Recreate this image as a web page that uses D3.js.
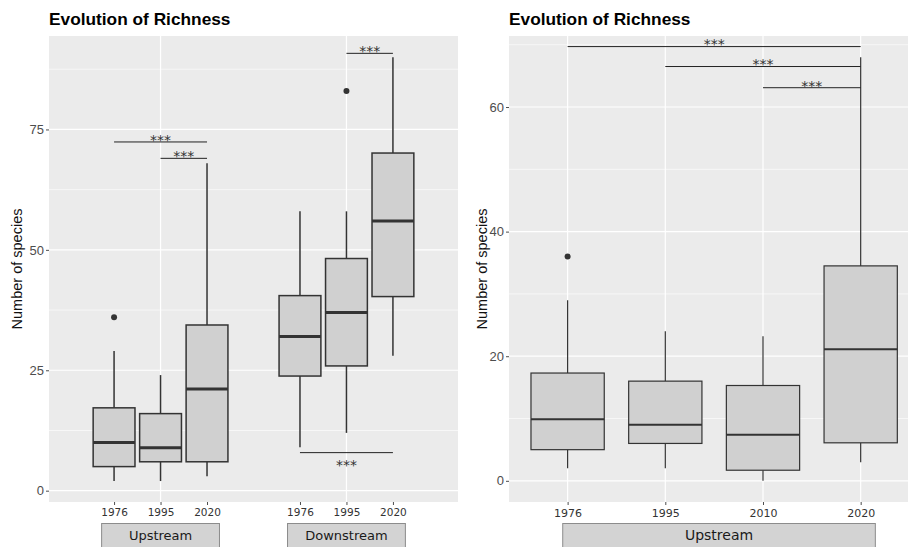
<!DOCTYPE html>
<html><head><meta charset="utf-8">
<script src="https://cdn.jsdelivr.net/npm/d3@7"></script>
<style>body{margin:0;background:#fff}svg{display:block}</style>
</head><body>
<svg id="chart" width="908" height="547"></svg>
<script>
// ---------- data ----------
const leftGroups = ["Upstream", "Downstream"];
const leftSites = ["Upstream","Upstream","Upstream","Downstream","Downstream","Downstream"];
const leftYears = ["1976","1995","2020","1976","1995","2020"];
const leftLower  = [2, 2, 3, 9, 12, 28];
const leftQ1     = [5, 6, 6, 23.8, 25.9, 40.3];
const leftMedian = [10, 8.9, 21.1, 32, 37, 56];
const leftQ3     = [17.2, 16, 34.4, 40.5, 48.2, 70.1];
const leftUpper  = [29, 24, 68, 58, 58, 90];
const leftOutliers = [[36], [], [], [], [83], []];
const leftYTicks = [0, 25, 50, 75];
const leftSigStart = [4, 0, 1, 3];
const leftSigEnd   = [5, 2, 2, 5];
const leftSigY     = [90.8, 72.4, 69.0, 7.9];
const leftSigBelow = [false, false, false, true];
const leftSigLabel = ["***", "***", "***", "***"];

const rightGroup = "Upstream";
const rightYears = ["1976","1995","2010","2020"];
const rightLower  = [2, 2, 0, 3];
const rightQ1     = [5, 6, 1.7, 6.1];
const rightMedian = [9.9, 9, 7.4, 21.1];
const rightQ3     = [17.3, 16, 15.3, 34.5];
const rightUpper  = [29, 24, 23.2, 68];
const rightOutliers = [[36], [], [], []];
const rightYTicks = [0, 20, 40, 60];
const rightSigStart = [0, 1, 2];
const rightSigEnd   = [3, 3, 3];
const rightSigY     = [69.7, 66.5, 63.1];
const rightSigLabel = ["***", "***", "***"];

const titleText = "Evolution of Richness";
const yTitle = "Number of species";

// ---------- styles ----------
const svg = d3.select("#chart");
const PANEL = "#ebebeb", GRID = "#ffffff", BOXFILL = "#d0d0d0", DARK = "#333333";
const SANS = "'Liberation Sans', Arial, Helvetica, sans-serif";
const DEJA = "'DejaVu Sans', sans-serif";
const plotTop = 36, plotBottom = 502;

function drawPanel(o) {
  const g = svg.append("g");
  const x = d3.scaleLinear().domain(o.xDomain).range([o.left, o.right]);
  const y = d3.scaleLinear().domain(o.yDomain).range([plotBottom, plotTop]);

  g.append("rect").attr("x", o.left).attr("y", plotTop)
    .attr("width", o.right - o.left).attr("height", plotBottom - plotTop).attr("fill", PANEL);

  const step = o.yTicks[1] - o.yTicks[0];
  const minor = o.yTicks.map(t => t + step / 2).concat([o.yTicks[0] - step / 2])
    .filter(v => v > o.yDomain[0] && v < o.yDomain[1]);
  g.selectAll(".ymin").data(minor).join("line")
    .attr("x1", o.left).attr("x2", o.right).attr("y1", d => y(d)).attr("y2", d => y(d))
    .attr("stroke", GRID).attr("stroke-width", 0.6);
  g.selectAll(".ymaj").data(o.yTicks).join("line")
    .attr("x1", o.left).attr("x2", o.right).attr("y1", d => y(d)).attr("y2", d => y(d))
    .attr("stroke", GRID).attr("stroke-width", 1.2);
  g.selectAll(".xmaj").data(o.xGrid).join("line")
    .attr("x1", d => x(d)).attr("x2", d => x(d)).attr("y1", plotTop).attr("y2", plotBottom)
    .attr("stroke", GRID).attr("stroke-width", 1.2);

  const yAxis = d3.axisLeft(y).tickValues(o.yTicks).tickSize(3).tickPadding(2);
  const ya = g.append("g").attr("transform", `translate(${o.left},0)`).call(yAxis);
  ya.select(".domain").remove();
  ya.selectAll(".tick line").attr("stroke", "#4d4d4d");
  ya.selectAll(".tick text").attr("fill", "#4d4d4d").style("font-family", SANS).style("font-size", "13px");

  g.append("text").attr("transform", `translate(${o.yTitleX},${(plotTop + plotBottom) / 2}) rotate(-90)`)
    .attr("text-anchor", "middle").style("font-family", SANS).style("font-size", "14.5px")
    .attr("fill", "#111").text(yTitle);

  g.append("text").attr("x", o.left).attr("y", 25).style("font-family", SANS)
    .style("font-size", "17.3px").style("font-weight", "bold").attr("fill", "#000").text(titleText);

  const xAxis = d3.axisBottom(x).tickValues(o.pos).tickSize(3).tickPadding(4)
    .tickFormat((d, i) => o.years[i]);
  const xa = g.append("g").attr("transform", `translate(0,${plotBottom})`).call(xAxis);
  xa.select(".domain").remove();
  xa.selectAll(".tick line").attr("stroke", "#4d4d4d");
  xa.selectAll(".tick text").attr("fill", "#333").style("font-family", DEJA).style("font-size", o.tickFont);

  o.strips.forEach(s => {
    g.append("rect").attr("x", x(s.from)).attr("y", 523.5)
      .attr("width", x(s.to) - x(s.from)).attr("height", 26)
      .attr("fill", "#d3d3d3").attr("stroke", "#8c8c8c").attr("stroke-width", 1);
    g.append("text").attr("x", (x(s.from) + x(s.to)) / 2).attr("y", 539.5)
      .attr("text-anchor", "middle").style("font-family", DEJA).style("font-size", o.stripFont)
      .attr("fill", "#1a1a1a").text(s.label);
  });

  const hw = o.boxWidth / 2;
  o.pos.forEach((p, i) => {
    const bg = g.append("g");
    bg.append("line").attr("x1", x(p)).attr("x2", x(p)).attr("y1", y(o.upper[i])).attr("y2", y(o.q3[i]))
      .attr("stroke", DARK).attr("stroke-width", o.sw);
    bg.append("line").attr("x1", x(p)).attr("x2", x(p)).attr("y1", y(o.q1[i])).attr("y2", y(o.lower[i]))
      .attr("stroke", DARK).attr("stroke-width", o.sw);
    bg.append("rect").attr("x", x(p - hw)).attr("y", y(o.q3[i]))
      .attr("width", x(p + hw) - x(p - hw)).attr("height", y(o.q1[i]) - y(o.q3[i]))
      .attr("fill", BOXFILL).attr("stroke", DARK).attr("stroke-width", o.sw);
    bg.append("line").attr("x1", x(p - hw)).attr("x2", x(p + hw))
      .attr("y1", y(o.median[i])).attr("y2", y(o.median[i]))
      .attr("stroke", DARK).attr("stroke-width", o.medW);
    o.outliers[i].forEach(v => {
      bg.append("circle").attr("cx", x(p)).attr("cy", y(v)).attr("r", 3).attr("fill", DARK);
    });
  });

  o.sigStart.forEach((s, i) => {
    const yy = y(o.sigY[i]);
    const x1 = x(o.pos[s]), x2 = x(o.pos[o.sigEnd[i]]);
    g.append("line").attr("x1", x1).attr("x2", x2).attr("y1", yy).attr("y2", yy)
      .attr("stroke", "#222").attr("stroke-width", 1);
    const below = o.sigBelow ? o.sigBelow[i] : false;
    const cy = below ? yy + 9 : yy - 5.5;
    g.append("text").attr("x", (x1 + x2) / 2).attr("y", cy + 8.3)
      .attr("text-anchor", "middle").style("font-family", DEJA).style("font-size", "14px")
      .attr("fill", "#333").text(o.sigLabel[i]);
  });
}

const leftPos = leftSites.map((s, i) => (leftGroups.indexOf(s) + 1) + ((i % 3) - 1) * 0.25);

drawPanel({
  left: 49, right: 458, xDomain: [0.4, 2.6], yDomain: [-2.35, 94.4],
  yTicks: leftYTicks, xGrid: [1, 2], pos: leftPos, years: leftYears,
  lower: leftLower, q1: leftQ1, median: leftMedian, q3: leftQ3, upper: leftUpper, outliers: leftOutliers,
  boxWidth: 0.225, sw: 1.5, medW: 3, yTitleX: 22, tickFont: "10.5px", stripFont: "13px",
  strips: leftGroups.map((gname, i) => ({ label: gname, from: i + 1 - 0.317, to: i + 1 + 0.317 })),
  sigStart: leftSigStart, sigEnd: leftSigEnd, sigY: leftSigY, sigBelow: leftSigBelow, sigLabel: leftSigLabel
});

const rightPos = rightYears.map((d, i) => i + 1);
drawPanel({
  left: 509, right: 919.3, xDomain: [0.4, 4.6], yDomain: [-3.4, 71.4],
  yTicks: rightYTicks, xGrid: rightPos, pos: rightPos, years: rightYears,
  lower: rightLower, q1: rightQ1, median: rightMedian, q3: rightQ3, upper: rightUpper, outliers: rightOutliers,
  boxWidth: 0.75, sw: 1.2, medW: 2, yTitleX: 487, tickFont: "11px", stripFont: "14px",
  strips: [{ label: rightGroup, from: 0.95, to: 4.15 }],
  sigStart: rightSigStart, sigEnd: rightSigEnd, sigY: rightSigY, sigLabel: rightSigLabel
});
</script>
</body></html>
